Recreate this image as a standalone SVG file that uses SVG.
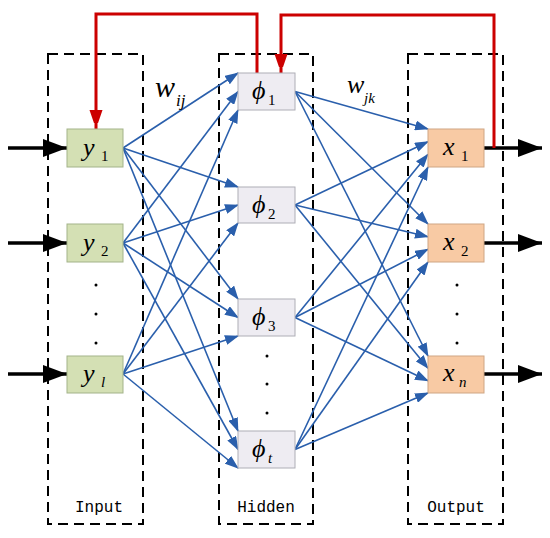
<svg xmlns="http://www.w3.org/2000/svg" width="550" height="538" viewBox="0 0 550 538">
<defs>
<style>
.box{fill:none;stroke:#000;stroke-width:2;stroke-dasharray:10,6}
.in{fill:#d4e0b4;stroke:#a3b38a;stroke-width:1}
.hd{fill:#eeecf2;stroke:#aeaeb6;stroke-width:1}
.out{fill:#f8caa4;stroke:#cfa684;stroke-width:1}
.bl{stroke:#2a5fac;stroke-width:1.6;fill:none;marker-end:url(#ab)}
.blk{stroke:#000;stroke-width:3.5;fill:none;marker-end:url(#ak)}
.red{stroke:#cc0000;stroke-width:3;fill:none;marker-end:url(#ar)}
.m{font-style:italic;font-size:26px;fill:#000}
.s{font-size:15px;fill:#000}
.si{font-style:italic;font-size:15px;fill:#000}
.lab{font-size:16px;fill:#000;text-anchor:middle}
</style>
<marker id="ab" markerUnits="userSpaceOnUse" markerWidth="14" markerHeight="10" refX="13" refY="5" orient="auto"><path d="M0,0 L14,5 L0,10 Z" fill="#2a5fac"/></marker>
<marker id="ak" markerUnits="userSpaceOnUse" markerWidth="24" markerHeight="18" refX="24" refY="9" orient="auto"><path d="M0,0 L24,9 L0,18 Z" fill="#000"/></marker>
<marker id="ar" markerUnits="userSpaceOnUse" markerWidth="13" markerHeight="20" refX="19" refY="6.5" orient="auto"><path d="M0,0 L19,6.5 L0,13 Z" fill="#cc0000"/></marker>
</defs>
<rect width="550" height="538" fill="#fff"/>
<g id="layers" font-family="Liberation Mono, monospace">
<rect class="box" x="48" y="54" width="95" height="470"/>
<rect class="box" x="219" y="54" width="94" height="470"/>
<rect class="box" x="408" y="54" width="95" height="470"/>
<text class="lab" x="99" y="512">Input</text>
<text class="lab" x="266" y="512">Hidden</text>
<text class="lab" x="456" y="512">Output</text>
</g>
<g id="connectors">
<path class="bl" d="M123,148 L238,73"/>
<path class="bl" d="M123,148 L238,187"/>
<path class="bl" d="M123,148 L238,299"/>
<path class="bl" d="M123,148 L238,431"/>
<path class="bl" d="M123,243 L238,91.5"/>
<path class="bl" d="M123,243 L238,205"/>
<path class="bl" d="M123,243 L238,317.5"/>
<path class="bl" d="M123,243 L238,449.5"/>
<path class="bl" d="M123,374 L238,110"/>
<path class="bl" d="M123,374 L238,223"/>
<path class="bl" d="M123,374 L238,336"/>
<path class="bl" d="M123,374 L238,468"/>
<path class="bl" d="M295,91.5 L428,129"/>
<path class="bl" d="M295,91.5 L428,224"/>
<path class="bl" d="M295,91.5 L428,356"/>
<path class="bl" d="M295,205 L428,141.7"/>
<path class="bl" d="M295,205 L428,236.7"/>
<path class="bl" d="M295,205 L428,368.3"/>
<path class="bl" d="M295,317.5 L428,154.3"/>
<path class="bl" d="M295,317.5 L428,249.3"/>
<path class="bl" d="M295,317.5 L428,380.7"/>
<path class="bl" d="M295,449.5 L428,167"/>
<path class="bl" d="M295,449.5 L428,262"/>
<path class="bl" d="M295,449.5 L428,393"/>
<path class="blk" d="M8,148 H67"/>
<path class="blk" d="M8,243 H67"/>
<path class="blk" d="M8,374 H67"/>
<path class="blk" d="M484,148 H542"/>
<path class="blk" d="M484,243 H542"/>
<path class="blk" d="M484,374 H542"/>
<path class="red" d="M257,73 V14 H96 V129"/>
<path class="red" d="M494,148 V15 H281 V73"/>
</g>
<g id="dots" fill="#000">
<circle cx="96" cy="285" r="1.5"/><circle cx="96" cy="314" r="1.5"/><circle cx="96" cy="343" r="1.5"/>
<circle cx="267" cy="356" r="1.5"/><circle cx="267" cy="384" r="1.5"/><circle cx="267" cy="413" r="1.5"/>
<circle cx="457" cy="285" r="1.5"/><circle cx="457" cy="314" r="1.5"/><circle cx="457" cy="343" r="1.5"/>
</g>
<g id="nodes" font-family="Liberation Serif, serif">
<g id="y1"><rect class="in" x="67" y="129" width="56" height="38"/><text class="m" x="83" y="156">y</text><text class="s" x="101" y="161">1</text></g>
<g id="y2"><rect class="in" x="67" y="224" width="56" height="38"/><text class="m" x="83" y="251">y</text><text class="s" x="101" y="256">2</text></g>
<g id="yl"><rect class="in" x="67" y="356" width="56" height="37"/><text class="m" x="83" y="382">y</text><text class="si" x="101" y="387">l</text></g>
<g id="phi1"><rect class="hd" x="238" y="73" width="57" height="37"/><text class="m" x="252" y="99">ϕ</text><text class="s" x="268" y="105">1</text></g>
<g id="phi2"><rect class="hd" x="238" y="187" width="57" height="36"/><text class="m" x="252" y="212.5">ϕ</text><text class="s" x="268" y="218.5">2</text></g>
<g id="phi3"><rect class="hd" x="238" y="299" width="57" height="37"/><text class="m" x="252" y="325">ϕ</text><text class="s" x="268" y="331">3</text></g>
<g id="phit"><rect class="hd" x="238" y="431" width="57" height="37"/><text class="m" x="252" y="457">ϕ</text><text class="si" x="268" y="463">t</text></g>
<g id="x1"><rect class="out" x="428" y="129" width="56" height="38"/><text class="m" x="443" y="155">x</text><text class="s" x="461" y="161">1</text></g>
<g id="x2"><rect class="out" x="428" y="224" width="56" height="38"/><text class="m" x="443" y="250">x</text><text class="s" x="461" y="256">2</text></g>
<g id="xn"><rect class="out" x="428" y="356" width="56" height="37"/><text class="m" x="443" y="381">x</text><text class="si" x="459" y="387">n</text></g>
</g>
<g id="weights" font-family="Liberation Serif, serif">
<text class="m" x="155" y="97" style="font-size:30px">w</text><text class="si" x="176" y="106" style="font-size:17px">ij</text>
<text class="m" x="347" y="93">w</text><text class="si" x="364" y="103">jk</text>
</g>
</svg>
